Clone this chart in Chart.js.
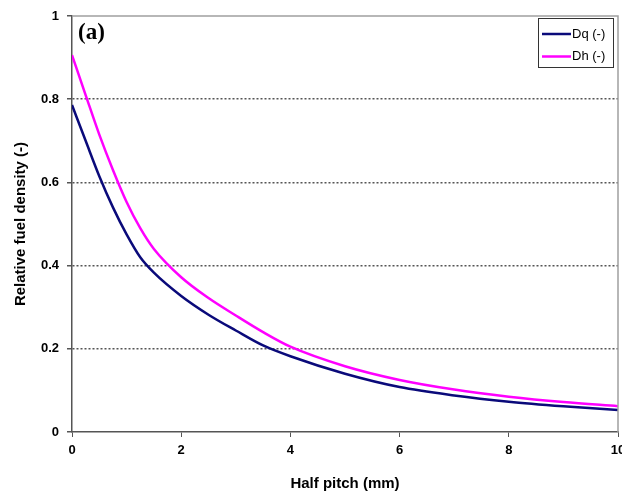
<!DOCTYPE html>
<html>
<head>
<meta charset="utf-8">
<script src="https://cdn.jsdelivr.net/npm/chart.js@4/dist/chart.umd.min.js"></script>
<style>
  html, body { margin: 0; padding: 0; background: #fff; }
  #wrap { width: 622px; height: 493px; }
</style>
</head>
<body>
<div id="wrap"><canvas id="fuelChart" width="622" height="493"></canvas></div>
<script>
// =====================
// Data
// =====================
const halfPitch = [0, 0.25, 0.5, 0.75, 1, 1.25, 1.5, 2, 2.5, 3, 3.5, 4, 5, 6, 7, 8, 9, 10];
const dqValues  = [0.786, 0.70, 0.615, 0.54, 0.475, 0.42, 0.383, 0.327, 0.282, 0.244, 0.208, 0.182, 0.140, 0.108, 0.088, 0.073, 0.062, 0.053];
const dhValues  = [0.906, 0.81, 0.715, 0.63, 0.553, 0.49, 0.44, 0.372, 0.322, 0.280, 0.240, 0.205, 0.158, 0.125, 0.102, 0.085, 0.072, 0.062];
const seriesNames = ["Dq (-)", "Dh (-)"];
const seriesColors = ["#0a0a7a", "#ff00ff"];
const panelLabel = "(a)";

const toPoints = vals => halfPitch.map((x, i) => ({ x, y: vals[i] }));

// =====================
// Extras: frame, panel label, legend box
// =====================
const extrasPlugin = {
    id: "extras",
    afterDraw(chart) {
        const { ctx, chartArea: a } = chart;
        ctx.save();
        // top + right frame
        ctx.strokeStyle = "#a0a0a0";
        ctx.lineWidth = 1.5;
        ctx.beginPath();
        ctx.moveTo(a.left, a.top);
        ctx.lineTo(a.right, a.top);
        ctx.lineTo(a.right, a.bottom);
        ctx.stroke();

        // panel label
        ctx.fillStyle = "#000";
        ctx.font = "bold 23px 'Liberation Serif'";
        ctx.textBaseline = "alphabetic";
        ctx.textAlign = "left";
        ctx.fillText(panelLabel, 78, 39);

        // legend
        const bx = 538, by = 18, bw = 75, bh = 49;
        ctx.fillStyle = "#fff";
        ctx.fillRect(bx, by, bw, bh);
        ctx.strokeStyle = "#333";
        ctx.lineWidth = 1;
        ctx.strokeRect(bx + 0.5, by + 0.5, bw, bh);
        ctx.font = "13px 'Liberation Sans'";
        ctx.textBaseline = "middle";
        chart.data.datasets.forEach((ds, i) => {
            const ly = by + 16 + i * 22.5;
            ctx.strokeStyle = ds.borderColor;
            ctx.lineWidth = 2.5;
            ctx.beginPath();
            ctx.moveTo(542, ly);
            ctx.lineTo(571, ly);
            ctx.stroke();
            ctx.fillStyle = "#000";
            ctx.fillText(ds.label, 572, ly);
        });
        ctx.restore();
    }
};

// =====================
// Chart
// =====================
const tickFont = { family: "'Liberation Sans'", size: 13, weight: "bold" };
const titleFont = { family: "'Liberation Sans'", size: 15, weight: "bold" };

new Chart(document.getElementById("fuelChart"), {
    type: "line",
    data: {
        datasets: [
            { label: seriesNames[0], data: toPoints(dqValues), borderColor: seriesColors[0], borderWidth: 2.5, pointRadius: 0, cubicInterpolationMode: "monotone", fill: false },
            { label: seriesNames[1], data: toPoints(dhValues), borderColor: seriesColors[1], borderWidth: 2.5, pointRadius: 0, cubicInterpolationMode: "monotone", fill: false }
        ]
    },
    options: {
        responsive: false,
        animation: false,
        layout: { padding: { top: 16, right: 4, left: 0, bottom: 0 } },
        plugins: { legend: { display: false }, tooltip: { enabled: false } },
        scales: {
            x: {
                type: "linear",
                min: 0, max: 10,
                ticks: { stepSize: 2, color: "#000", font: tickFont, padding: 6 },
                grid: { drawOnChartArea: false, tickLength: 5, tickColor: "#555" },
                border: { color: "#555", width: 1.5 },
                title: { display: true, text: "Half pitch (mm)", color: "#000", font: titleFont, padding: { top: 4, bottom: 0 } },
                afterFit(scale) { scale.height = 61; scale.paddingLeft = 0; scale.paddingRight = 0; }
            },
            y: {
                min: 0, max: 1,
                ticks: {
                    stepSize: 0.2, color: "#000", font: tickFont, padding: 8,
                    callback: v => String(Math.round(v * 10) / 10)
                },
                grid: {
                    color: c => (c.tick && c.tick.value > 0.01 && c.tick.value < 0.99) ? "#555" : "rgba(0,0,0,0)",
                    tickColor: "#555", tickLength: 5, lineWidth: 1.5
                },
                border: { color: "#555", width: 1.5, dash: [2, 2] },
                title: { display: true, text: "Relative fuel density (-)", color: "#000", font: titleFont, padding: { top: 12, bottom: 0 } },
                afterFit(scale) { scale.width = 72; }
            }
        }
    },
    plugins: [extrasPlugin]
});
</script>
</body>
</html>
